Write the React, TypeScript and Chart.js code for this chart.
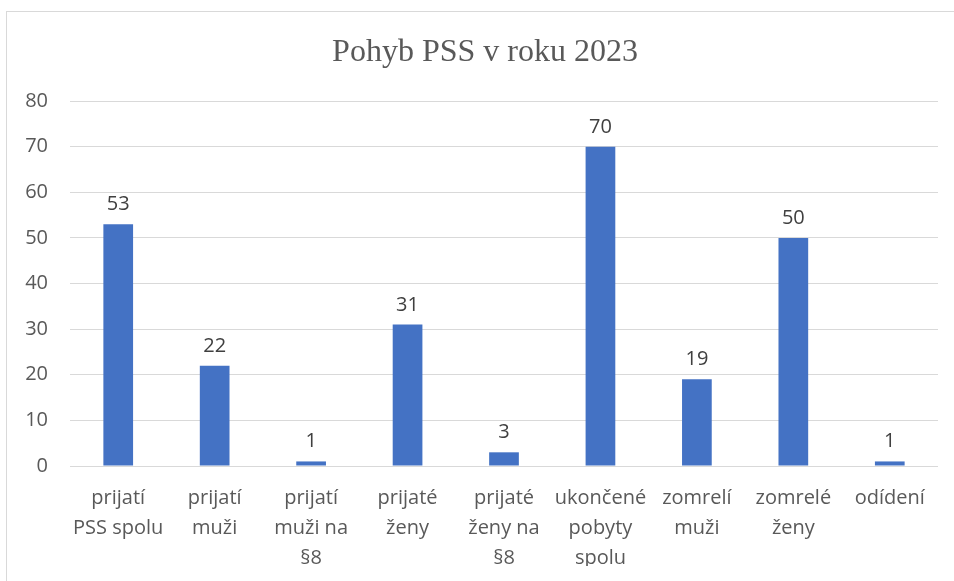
import React, { useEffect, useRef } from "react";
import { Chart, registerables } from "chart.js";

Chart.register(...registerables);

const TITLE = "Pohyb PSS v roku 2023";
const categories: string[][] = [
  ["prijatí", "PSS spolu"],
  ["prijatí", "muži"],
  ["prijatí", "muži na", "§8"],
  ["prijaté", "ženy"],
  ["prijaté", "ženy na", "§8"],
  ["ukončené", "pobyty", "spolu"],
  ["zomrelí", "muži"],
  ["zomrelé", "ženy"],
  ["odídení"],
];
const values: number[] = [53, 22, 1, 31, 3, 70, 19, 50, 1];
const yMin = 0;
const yMax = 80;
const yStep = 10;

const FONT = "'Open Sans', 'Noto Sans', sans-serif";

export default function App() {
  const ref = useRef<HTMLCanvasElement | null>(null);

  useEffect(() => {
    const canvas = ref.current;
    if (!canvas) return;

    const titlePlugin = {
      id: "customTitle",
      afterDraw(chart: any) {
        const ctx = chart.ctx;
        ctx.save();
        ctx.font = "32px 'Liberation Serif', 'Times New Roman', serif";
        ctx.fillStyle = "#595959";
        ctx.textAlign = "center";
        ctx.textBaseline = "alphabetic";
        ctx.fillText(TITLE, 485, 61);
        ctx.restore();
      },
    };

    const labelPlugin = {
      id: "barLabels",
      afterDatasetsDraw(chart: any) {
        const ctx = chart.ctx;
        const meta = chart.getDatasetMeta(0);
        ctx.save();
        ctx.font = `20px ${FONT}`;
        ctx.fillStyle = "#404040";
        ctx.textAlign = "center";
        ctx.textBaseline = "alphabetic";
        meta.data.forEach((bar: any, i: number) => {
          ctx.fillText(String(values[i]), bar.x, bar.y - 14);
        });
        ctx.restore();
      },
    };

    const chart = new Chart(canvas, {
      type: "bar",
      data: {
        labels: categories,
        datasets: [
          {
            data: values,
            backgroundColor: "#4472C4",
            borderWidth: 0,
            barPercentage: 0.308,
            categoryPercentage: 1,
          },
        ],
      },
      options: {
        responsive: false,
        animation: false,
        layout: { padding: { left: 0, right: 16, top: 101, bottom: 15 } },
        plugins: {
          legend: { display: false },
          title: { display: false },
          tooltip: { enabled: false },
        },
        scales: {
          x: {
            grid: { display: false, drawTicks: false },
            border: { display: false },
            ticks: {
              color: "#595959",
              font: { family: FONT, size: 20, lineHeight: 1.5 },
              padding: 17,
              maxRotation: 0,
              autoSkip: false,
            },
            afterFit(scale: any) {
              scale.height = 100;
            },
          },
          y: {
            min: yMin,
            max: yMax,
            grid: { color: "#d9d9d9", lineWidth: 1, drawTicks: false },
            border: { display: false },
            ticks: {
              stepSize: yStep,
              color: "#595959",
              font: { family: FONT, size: 20 },
              padding: 22,
            },
            afterFit(scale: any) {
              scale.width = 70;
            },
          },
        },
      },
      plugins: [titlePlugin, labelPlugin],
    });

    return () => chart.destroy();
  }, []);

  return (
    <div
      style={{
        position: "fixed",
        left: 0,
        top: 0,
        width: 954,
        height: 581,
        overflow: "hidden",
        background: "#ffffff",
      }}
    >
      <div
        style={{
          position: "absolute",
          left: 6,
          top: 11,
          width: 1000,
          height: 700,
          border: "1px solid #d9d9d9",
          boxSizing: "border-box",
        }}
      />
      <canvas
        ref={ref}
        width={954}
        height={581}
        style={{ position: "absolute", left: 0, top: 0, width: 954, height: 581 }}
      />
    </div>
  );
}
